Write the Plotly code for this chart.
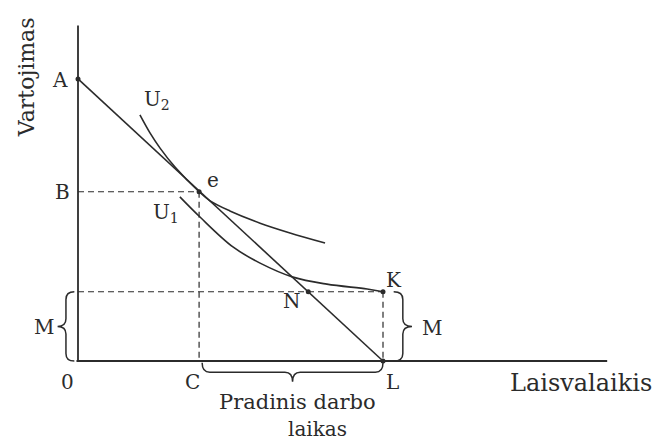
import plotly.graph_objects as go

# ---- data (diagram units) ----
A_y = 9.25            # consumption intercept (point A)
L_x = 10.0            # leisure endowment (point L)
e_x, e_y = 3.97, 5.55 # optimum e  (C on x-axis, B on y-axis)
M_y = 2.27            # non-labour income level (M, K)
N_x = 7.55            # point N on budget line at level M
x_axis_end = 17.35
y_axis_end = 11.0

u1_x = [3.34, 4.0, 5.08, 5.97, 7.05, 8.16, 9.48, 10.0]
u1_y = [5.38, 4.72, 3.74, 3.21, 2.75, 2.52, 2.36, 2.27]

u2_x = [2.03, 2.36, 2.69, 3.18, 3.97, 4.33, 4.98, 5.97, 6.95, 8.10]
u2_y = [8.07, 7.48, 6.98, 6.36, 5.55, 5.25, 4.92, 4.52, 4.20, 3.87]

budget_x = [0.0, L_x]
budget_y = [A_y, 0.0]

# ---- style ----
INK = "#2b2b2b"
FONT = "DejaVu Serif, Liberation Serif, serif"
SCALE = 30.5  # px per unit (layout only)

fig = go.Figure()

def line(xs, ys, dash=None, width=1.6, shape="linear"):
    fig.add_trace(go.Scatter(x=xs, y=ys, mode="lines",
                             line=dict(color=INK, width=width, dash=dash, shape=shape, smoothing=1.0),
                             hoverinfo="skip", showlegend=False))

# axes
line([0, 0], [0, y_axis_end], width=1.8)
line([-0.05, x_axis_end], [0, 0], width=1.8)
# dashed guides
line([0, e_x], [e_y, e_y], dash="6px,4px", width=1.2)
line([e_x, e_x], [e_y, 0], dash="6px,4px", width=1.2)
line([0, L_x], [M_y, M_y], dash="6px,4px", width=1.2)
line([L_x, L_x], [M_y, 0], dash="6px,4px", width=1.2)
# budget line
line(budget_x, budget_y, width=1.6)
# indifference curves
line(u1_x, u1_y, width=1.6, shape="spline")
line(u2_x, u2_y, width=1.6, shape="spline")
# dots
fig.add_trace(go.Scatter(x=[0, e_x, N_x, L_x, L_x], y=[A_y, e_y, M_y, M_y, 0],
                         mode="markers", marker=dict(color=INK, size=5),
                         hoverinfo="skip", showlegend=False))

# braces
def brace(p1, p2, n, d, q=0.25):
    ux, uy = p2[0] - p1[0], p2[1] - p1[1]
    ln = (ux ** 2 + uy ** 2) ** 0.5
    ux, uy = ux / ln, uy / ln
    nx, ny = n
    h = d / 2
    mx, my = (p1[0] + p2[0]) / 2, (p1[1] + p2[1]) / 2
    P = lambda x, y: f"{x:.3f},{y:.3f}"
    s = f"M {P(*p1)} "
    s += f"Q {P(p1[0]+nx*h, p1[1]+ny*h)} {P(p1[0]+nx*h+ux*q, p1[1]+ny*h+uy*q)} "
    s += f"L {P(mx+nx*h-ux*q, my+ny*h-uy*q)} "
    s += f"Q {P(mx+nx*h, my+ny*h)} {P(mx+nx*d, my+ny*d)} "
    s += f"Q {P(mx+nx*h, my+ny*h)} {P(mx+nx*h+ux*q, my+ny*h+uy*q)} "
    s += f"L {P(p2[0]+nx*h-ux*q, p2[1]+ny*h-uy*q)} "
    s += f"Q {P(p2[0]+nx*h, p2[1]+ny*h)} {P(*p2)}"
    fig.add_shape(type="path", path=s, xref="x", yref="y",
                  line=dict(color=INK, width=1.5))

brace((-0.12, M_y), (-0.12, 0.0), (-1, 0), 0.55)
brace((10.35, M_y), (10.35, 0.0), (1, 0), 0.6)
brace((e_x + 0.1, -0.06), (L_x, -0.06), (0, -1), 0.62)

# labels
labels = [
    ("A", -0.59, 9.21), ("B", -0.52, 5.54), ("M", -1.1, 1.11), ("0", -0.33, -0.69),
    ("C", 3.74, -0.69), ("L", 10.3, -0.69), ("K", 10.36, 2.66), ("N", 7.02, 1.98),
    ("e", 4.42, 5.92), ("U<sub>1</sub>", 2.9, 4.86), ("U<sub>2</sub>", 2.6, 8.55),
    ("M", 11.62, 1.08),
]
for t, x, y in labels:
    fig.add_annotation(x=x, y=y, text=t, showarrow=False, xref="x", yref="y",
                       font=dict(family=FONT, size=20, color=INK))
fig.add_annotation(x=16.48, y=-0.72, text="Laisvalaikis", showarrow=False,
                   font=dict(family=FONT, size=24, color=INK))
fig.add_annotation(x=-1.71, y=9.3, text="Vartojimas", showarrow=False, textangle=-90,
                   font=dict(family=FONT, size=22, color=INK))
fig.add_annotation(x=7.2, y=-1.34, text="Pradinis darbo", showarrow=False,
                   font=dict(family=FONT, size=21, color=INK))
fig.add_annotation(x=7.85, y=-2.22, text="laikas", showarrow=False,
                   font=dict(family=FONT, size=20, color=INK))

W, H = 661, 443
x0 = -78 / SCALE
y1 = 361 / SCALE
fig.update_layout(
    width=W, height=H, margin=dict(l=0, r=0, t=0, b=0),
    paper_bgcolor="white", plot_bgcolor="white",
    xaxis=dict(range=[x0, x0 + W / SCALE], visible=False, fixedrange=True),
    yaxis=dict(range=[y1 - H / SCALE, y1], visible=False, fixedrange=True),
    showlegend=False,
)
fig.write_html("out.html", config={"displayModeBar": False},
               post_script="document.body.style.margin='0px';document.body.style.overflow='hidden';")
